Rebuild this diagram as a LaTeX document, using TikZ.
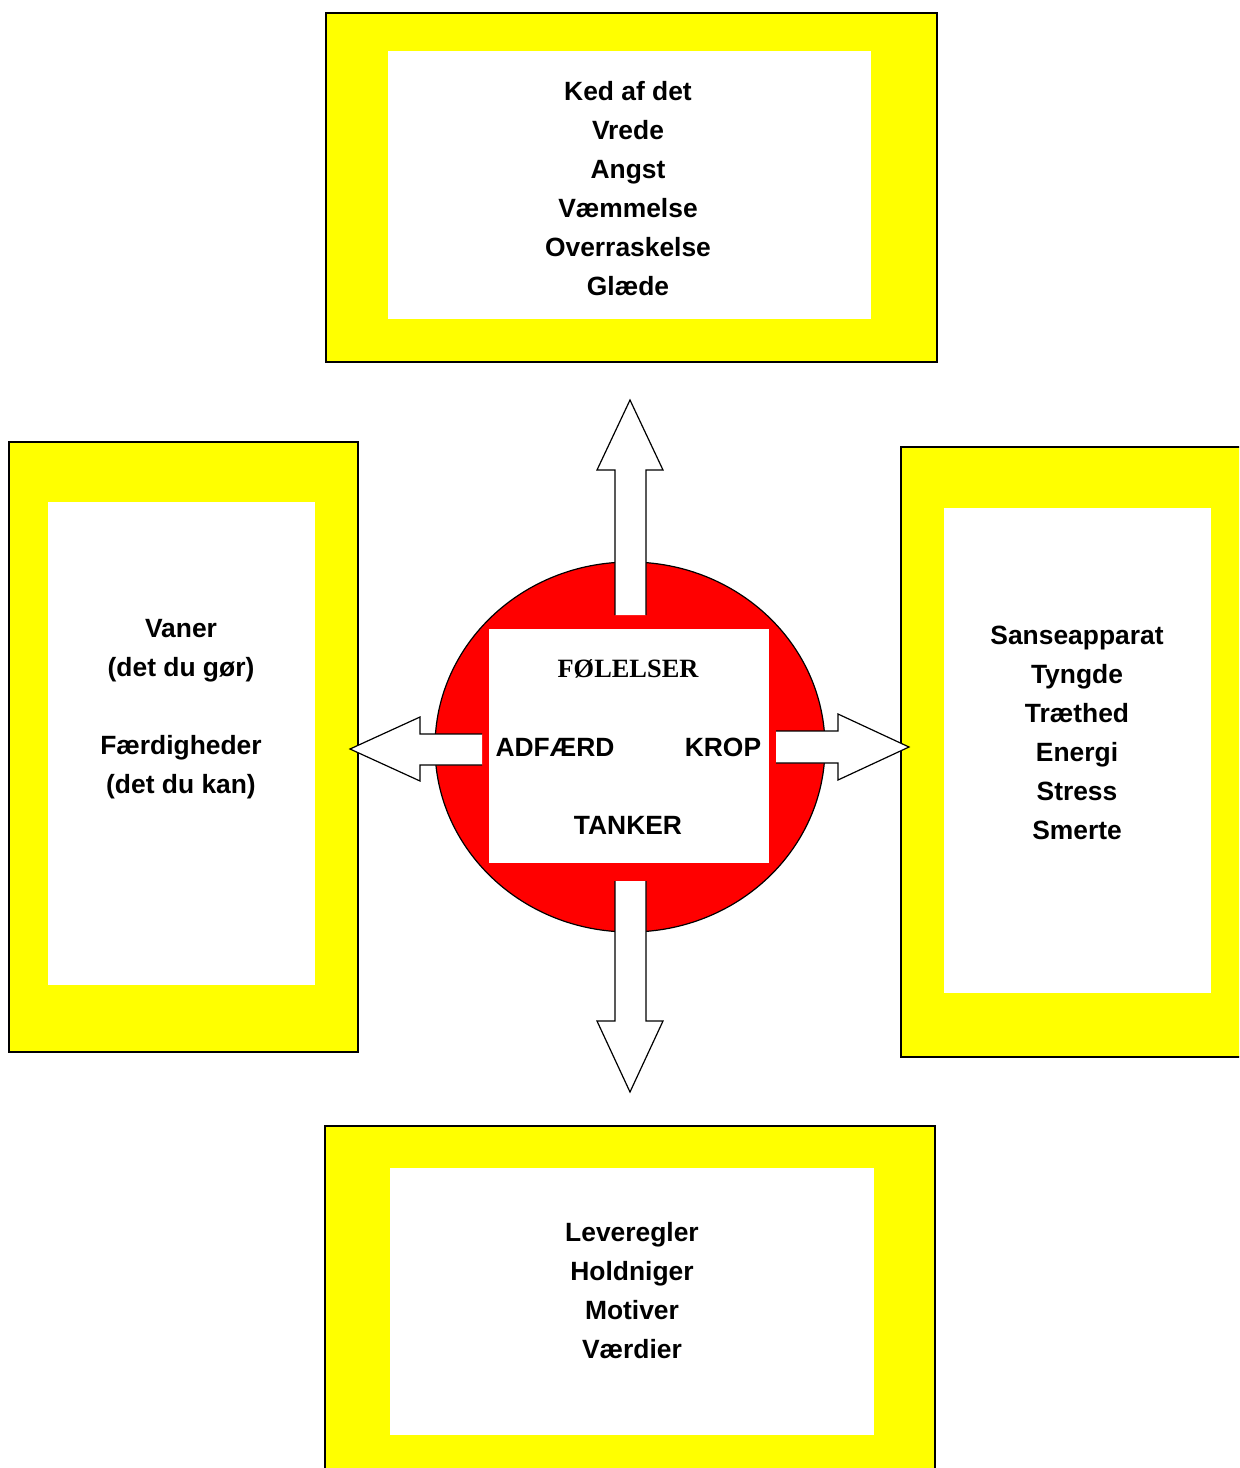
\documentclass[tikz,border=0pt]{standalone}
\usepackage{fontspec}
\setmainfont{Liberation Sans}
\newfontfamily\timesf{Liberation Serif}
\usetikzlibrary{fit}
\definecolor{yel}{RGB}{255,255,0}
\definecolor{rd}{RGB}{255,0,0}
\begin{document}
\begin{tikzpicture}[x=0.5pt,y=-0.5pt,
  outer/.style={draw=black, line width=0.8pt, fill=yel, inner sep=0pt},
  inner/.style={fill=white, inner sep=0pt},
  lbl/.style={font=\fontsize{13.2pt}{19.5pt}\selectfont\bfseries, align=center, inner sep=0pt},
  blockarrow/.style={draw=black, line width=0.6pt, line join=miter},
  arrowfill/.style={fill=white}]
\useasboundingbox (0,0) rectangle (1239,1468);
\clip (0,0) rectangle (1239,1468);

% outer yellow frames
\node[outer, fit={(326,13) (937,362)}] (topbox) {};
\node[outer, fit={(9,442) (358,1052)}] (leftbox) {};
\node[outer, fit={(901,447) (1260,1057)}] (rightbox) {};
\node[outer, fit={(325,1126) (935,1490)}] (botbox) {};

% inner white panels
\node[inner, fit={(388,51) (871,319)}] (topin) {};
\node[inner, fit={(48,502) (315,985)}] (leftin) {};
\node[inner, fit={(944,508) (1211,993)}] (rightin) {};
\node[inner, fit={(390,1168) (874,1435)}] (botin) {};

% central ellipse
\coordinate (c) at (630,747);
\draw[fill=rd, line width=0.6pt] (c) ellipse [x radius=195, y radius=185];
\node[inner, fit={(489,629) (769,863)}] (core) {};

% block arrows
\fill[arrowfill] (615,615) -- (615,470) -- (597,470) -- (630,400) -- (663,470) -- (646,470) -- (646,615) -- cycle;
\draw[blockarrow] (615,615) -- (615,470) -- (597,470) -- (630,400) -- (663,470) -- (646,470) -- (646,615);

\fill[arrowfill] (615,881) -- (615,1021) -- (597,1021) -- (630,1092) -- (663,1021) -- (646,1021) -- (646,881) -- cycle;
\draw[blockarrow] (615,881) -- (615,1021) -- (597,1021) -- (630,1092) -- (663,1021) -- (646,1021) -- (646,881);

\fill[arrowfill] (482,734) -- (420,734) -- (420,717) -- (350,749) -- (420,781) -- (420,765) -- (482,765) -- cycle;
\draw[blockarrow] (482,734) -- (420,734) -- (420,717) -- (350,749) -- (420,781) -- (420,765) -- (482,765);

\fill[arrowfill] (776,731) -- (838,731) -- (838,714) -- (909,747) -- (838,780) -- (838,763) -- (776,763) -- cycle;
\draw[blockarrow] (776,731) -- (838,731) -- (838,714) -- (909,747) -- (838,780) -- (838,763) -- (776,763);

% texts
\node[lbl] (toptxt) at (628,189) {Ked af det\\Vrede\\Angst\\Væmmelse\\Overraskelse\\Glæde};
\node[lbl] (lefttxt) at (181,709) {Vaner\\(det du gør)\\[19.5pt]Færdigheder\\(det du kan)};
\node[lbl] (righttxt) at (1077,733) {Sanseapparat\\Tyngde\\Træthed\\Energi\\Stress\\Smerte};
\node[lbl] (bottxt) at (632,1291) {Leveregler\\Holdniger\\Motiver\\Værdier};

\node[lbl, font=\timesf\fontsize{13.2pt}{19.5pt}\selectfont\bfseries] (fol) at (628,669) {FØLELSER};
\node[lbl] (adf) at (555,747) {ADFÆRD};
\node[lbl] (krop) at (723,747) {KROP};
\node[lbl] (tank) at (628,825) {TANKER};
\end{tikzpicture}
\end{document}
